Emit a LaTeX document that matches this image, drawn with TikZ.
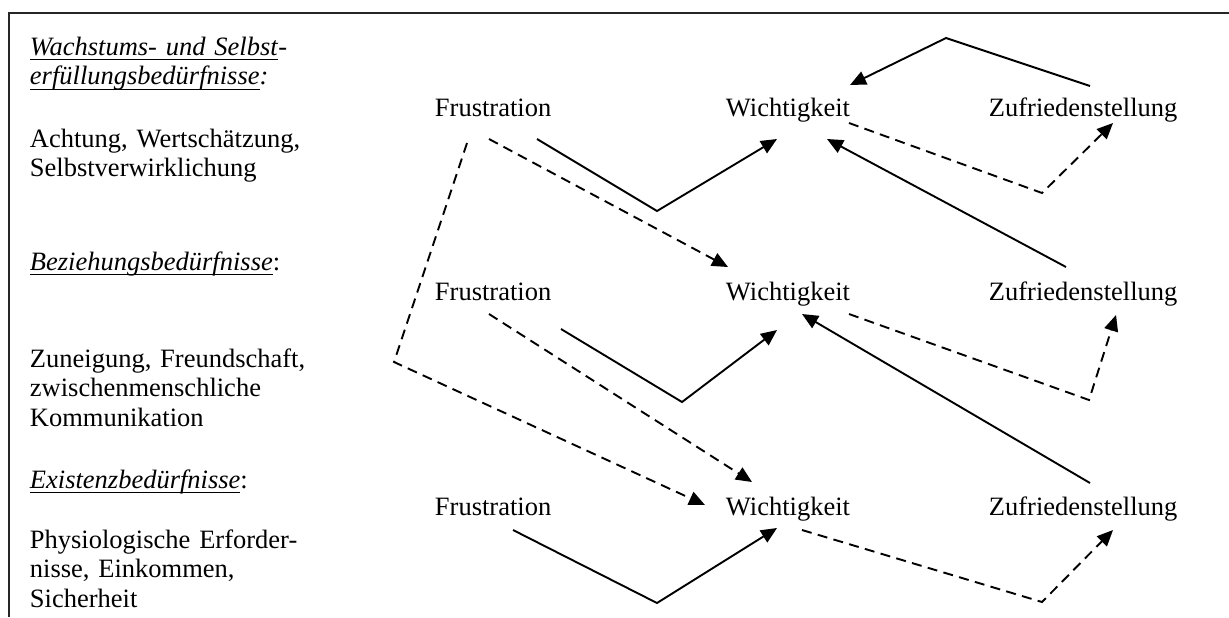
\documentclass[tikz,border=0pt]{standalone}
\usepackage{fontspec}
\setmainfont{Liberation Serif}
\usetikzlibrary{arrows.meta}
\newcommand{\unterstr}[1]{\leavevmode\setbox0\hbox{#1}\rlap{\vrule height -2.1pt depth 2.7pt width \wd0}\box0}
\begin{document}
\begin{tikzpicture}[x=0.5pt,y=-0.5pt,line width=0.95pt,>={Triangle[length=8pt,width=7pt]},every node/.style={font=\fontsize{13.25pt}{14.9pt}\selectfont,inner sep=0pt}]
\useasboundingbox (0,0) rectangle (1229,617);
\draw[line width=1pt,black!85] (1229,13) -- (9,13) -- (9,617);
% needs on the left
\node[anchor=base west,text width=160pt,align=left] (h1) at (29,55) {\unterstr{\textit{Wachstums- und Selbst}}\textit{-}\\\unterstr{\textit{erfüllungsbedürfnisse}}\textit{:}};
\node[anchor=base west,text width=160pt,align=left] (t1) at (29,147) {Achtung, Wertschätzung,\\Selbstverwirklichung};
\node[anchor=base west,text width=160pt,align=left] (h2) at (29,270) {\unterstr{\textit{Beziehungsbedürfnisse}}:};
\node[anchor=base west,text width=160pt,align=left] (t2) at (29,367) {Zuneigung, Freundschaft,\\zwischenmenschliche\\Kommunikation};
\node[anchor=base west,text width=160pt,align=left] (h3) at (29,488) {\unterstr{\textit{Existenzbedürfnisse}}:};
\node[anchor=base west,text width=160pt,align=left] (t3) at (29,548) {Physiologische Erforder-\\nisse, Einkommen,\\Sicherheit};
% the three rows
\node[anchor=base west] (F1) at (434,116) {Frustration};
\node[anchor=base west] (W1) at (725,116) {Wichtigkeit};
\node[anchor=base west] (Z1) at (988,116) {Zufriedenstellung};
\node[anchor=base west] (F2) at (434,300) {Frustration};
\node[anchor=base west] (W2) at (725,300) {Wichtigkeit};
\node[anchor=base west] (Z2) at (988,300) {Zufriedenstellung};
\node[anchor=base west] (F3) at (434,515) {Frustration};
\node[anchor=base west] (W3) at (725,515) {Wichtigkeit};
\node[anchor=base west] (Z3) at (988,515) {Zufriedenstellung};
% ends and bends
\coordinate (A1) at (537,139);
\coordinate (A2) at (657,211);
\coordinate (A3) at (777,139);
\coordinate (B1) at (1090,86);
\coordinate (B2) at (946,38);
\coordinate (B3) at (850,85);
\coordinate (C1) at (1066,267);
\coordinate (C2) at (827,139);
\coordinate (D1) at (561,329);
\coordinate (D2) at (682,402);
\coordinate (D3) at (777,330);
\coordinate (E1) at (1090,483);
\coordinate (E2) at (802,314);
\coordinate (G1) at (513,530);
\coordinate (G2) at (657,603);
\coordinate (G3) at (777,528);
\coordinate (K1) at (489,139);
\coordinate (K2) at (728,267);
\coordinate (L1) at (467,143);
\coordinate (L2) at (394,362);
\coordinate (L3) at (705,505);
\coordinate (M1) at (849,123);
\coordinate (M2) at (1042,193);
\coordinate (M3) at (1113,123);
\coordinate (N1) at (489,314);
\coordinate (N2) at (752,482);
\coordinate (P1) at (849,314);
\coordinate (P2) at (1089,400);
\coordinate (P3) at (1116,315);
\coordinate (Q1) at (802,530);
\coordinate (Q2) at (1042,602);
\coordinate (Q3) at (1113,530);
\draw[->] (A1) -- (A2) -- (A3);
\draw[->] (B1) -- (B2) -- (B3);
\draw[->] (C1) -- (C2);
\draw[->] (D1) -- (D2) -- (D3);
\draw[->] (E1) -- (E2);
\draw[->] (G1) -- (G2) -- (G3);
\begin{scope}[dash pattern=on 5pt off 3.2pt]
\draw[->] (K1) -- (K2);
\draw[->] (L1) -- (L2) -- (L3);
\draw[->] (M1) -- (M2) -- (M3);
\draw[->] (N1) -- (N2);
\draw[->] (P1) -- (P2) -- (P3);
\draw[->] (Q1) -- (Q2) -- (Q3);
\end{scope}
\end{tikzpicture}
\end{document}
